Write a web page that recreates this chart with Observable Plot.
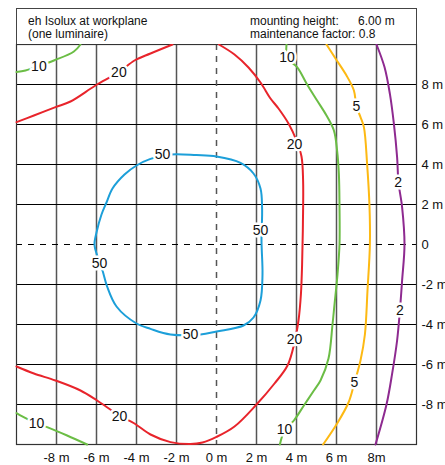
<!DOCTYPE html>
<html>
<head>
<meta charset="utf-8">
<script src="https://cdn.jsdelivr.net/npm/d3@7"></script>
<script src="https://cdn.jsdelivr.net/npm/@observablehq/plot@0.6"></script>
<style>
  html, body { margin: 0; padding: 0; background: white; overflow: hidden; }
  #wrap { position: relative; width: 445px; height: 465px; font-family: "Liberation Sans", Arial, sans-serif; }
  #titlebox { position: absolute; left: 16px; top: 8px; width: 399px; height: 35px; border: 1px solid #444; border-bottom: none; background: white; }
  .t { position: absolute; font-size: 12px; line-height: 14px; color: #111; white-space: pre; }
</style>
</head>
<body>
<div id="wrap">
  <div id="chart"></div>
  <div id="titlebox"></div>
  <div class="t" style="left:28px; top:14px">eh Isolux at workplane</div>
  <div class="t" style="left:28px; top:27px">(one luminaire)</div>
  <div class="t" style="left:250px; top:14px">mounting height:</div>
  <div class="t" style="left:358px; top:14px">6.00 m</div>
  <div class="t" style="left:250px; top:27px">maintenance factor: 0.8</div>
</div>
<script>
// Axis ticks and labels
const xTicks = [-8, -6, -4, -2, 0, 2, 4, 6, 8];
const xTickLabels = ["-8 m", "-6 m", "-4 m", "-2 m", "0 m", "2 m", "4 m", "6 m", "8m"];
const yTicks = [8, 6, 4, 2, 0, -2, -4, -6, -8];
const yTickLabels = ["8 m", "6 m", "4 m", "2 m", "0", "-2 m", "-4 m", "-6 m", "-8 m"];
const gridLines = [-8, -6, -4, -2, 2, 4, 6, 8];

// Isolux levels and colours
const levels = [50, 20, 10, 5, 2];
const levelColors = ["#1c9fd9", "#e8242b", "#6bbd45", "#fdb913", "#8e2a90"];

// Contour lines [x m, y m]
const iso50 = [[-6.1,0],[-6.0,0.6],[-5.75,1.5],[-5.5,2.1],[-5.2,2.8],[-4.6,3.5],[-4.0,3.95],[-3.3,4.28],[-2.3,4.5],[-1.0,4.47],[0.0,4.4],[1.2,4.08],[1.85,3.55],[2.2,2.8],[2.28,1.8],[2.25,0.2],[2.3,-1.5],[2.2,-2.8],[1.85,-3.65],[1.35,-4.05],[0.0,-4.35],[-0.8,-4.5],[-2.3,-4.5],[-3.3,-4.22],[-4.0,-3.95],[-5.0,-3.1],[-5.47,-2.1],[-5.7,-1.3],[-5.95,-0.6]];
const iso20a = [[-10,6.12],[-9.13,6.45],[-8.05,6.87],[-7.3,7.15],[-6.05,7.95],[-4.88,8.62],[-4.1,9.2],[-3.3,9.55],[-2.2,10]];
const iso20b = [[0.12,10],[0.9,9.5],[1.6,8.85],[2.2,8.1],[2.7,7.3],[3.1,6.8],[3.6,6.05],[4.0,5.2],[4.25,4.4],[4.33,3.2],[4.32,1.0],[4.28,-1.0],[4.22,-2.5],[4.1,-3.8],[3.9,-4.9],[3.55,-6.05],[2.9,-6.95],[2.0,-8.0],[0.9,-9.1],[0.0,-9.62],[-0.7,-9.9],[-1.3,-9.98],[-2.3,-9.88],[-3.3,-9.5],[-4.1,-8.95],[-4.85,-8.55],[-5.97,-7.8],[-6.8,-7.3],[-8.05,-6.8],[-9.13,-6.45],[-10,-6.1]];
const iso10a = [[-10,8.62],[-9.55,8.7],[-8.88,8.92],[-8.13,9.2],[-7.13,9.65],[-6.8,10]];
const iso10b = [[-10,-8.43],[-9.47,-8.72],[-9.0,-8.93],[-8.47,-9.13],[-7.47,-9.55],[-6.47,-10]];
const iso10c = [[3.5,10],[3.55,9.3],[4.03,8.87],[4.53,8.0],[5.03,7.2],[5.5,6.45],[5.87,5.7],[6.03,4.7],[6.12,3.5],[6.15,1.9],[6.15,0],[6.05,-1.5],[5.9,-3.0],[5.8,-4.0],[5.6,-5.7],[5.2,-6.8],[4.87,-7.3],[4.37,-8.05],[3.87,-8.8],[3.4,-9.3],[3.17,-10]];
const iso5 = [[5.5,10],[5.95,9.3],[6.5,8.45],[6.87,7.7],[7.0,6.9],[7.2,6.37],[7.37,5.87],[7.53,4.03],[7.65,1.9],[7.67,0],[7.55,-2.3],[7.42,-4.5],[7.2,-5.8],[6.9,-6.9],[6.6,-7.9],[6.03,-8.95],[5.33,-10]];
const iso2 = [[8.0,10],[8.4,8.87],[8.67,7.53],[8.87,6.03],[9.03,4.37],[9.1,3.1],[9.28,1.87],[9.4,0],[9.28,-1.8],[9.17,-3.3],[9.03,-4.8],[8.78,-6.47],[8.5,-8.0],[7.95,-10]];

// Contour labels
const labelLevels = [50, 50, 50, 50, 20, 20, 20, 20, 10, 10, 10, 10, 5, 5, 2, 2];
const labelX = [-2.7, 2.2, -1.3, -5.85, -4.88, 3.9, 3.9, -4.85, -8.88, -9.0, 3.53, 3.4, 7.0, 6.9, 9.08, 9.17];
const labelY = [4.5, 0.7, -4.5, -0.95, 8.62, 5.0, -4.75, -8.6, 8.92, -8.93, 9.33, -9.27, 6.9, -6.88, 3.08, -3.3];

const colorOf = v => levelColors[levels.indexOf(v)];
const series = [
  {pts: iso50, level: 50, closed: true},
  {pts: iso20a, level: 20}, {pts: iso20b, level: 20},
  {pts: iso10a, level: 10}, {pts: iso10b, level: 10}, {pts: iso10c, level: 10},
  {pts: iso5, level: 5}, {pts: iso2, level: 2}
];
const labels = labelLevels.map((v, i) => ({level: v, x: labelX[i], y: labelY[i]}));

const marks = [
  Plot.ruleX(gridLines, {stroke: "#555", strokeWidth: 1.5}),
  Plot.ruleY(gridLines, {stroke: "#000", strokeWidth: 1}),
  Plot.ruleX([0], {stroke: "#555", strokeWidth: 1.5, strokeDasharray: "6,6"}),
  Plot.ruleY([0], {stroke: "#000", strokeWidth: 1, strokeDasharray: "6,6"}),
  Plot.frame({stroke: "#333", strokeWidth: 1.2}),
  ...series.map(s => Plot.line(s.pts, {
    x: d => d[0], y: d => d[1], stroke: colorOf(s.level), strokeWidth: 2,
    curve: s.closed ? "catmull-rom-closed" : "catmull-rom"
  })),
  Plot.text(labels, {
    x: "x", y: "y", text: d => String(d.level), fill: "#111",
    stroke: "white", strokeWidth: 5, paintOrder: "stroke", fontSize: 14
  }),
  Plot.axisX(xTicks, {tickSize: 0, tickPadding: 8, label: null, tickFormat: (d) => xTickLabels[xTicks.indexOf(d)], fontSize: 13, fill: "#111"}),
  Plot.axisY(yTicks, {anchor: "right", tickSize: 0, tickPadding: 5, label: null, tickFormat: (d) => yTickLabels[yTicks.indexOf(d)], fontSize: 13, fill: "#111"})
];

const chart = Plot.plot({
  width: 445, height: 465,
  marginLeft: 16, marginRight: 29, marginTop: 44, marginBottom: 21,
  x: {domain: [-10, 10], label: null},
  y: {domain: [-10, 10], label: null},
  style: {fontFamily: "'Liberation Sans', Arial, sans-serif", fontSize: "13px", background: "white"},
  marks
});
document.getElementById("chart").appendChild(chart);
</script>
</body>
</html>
